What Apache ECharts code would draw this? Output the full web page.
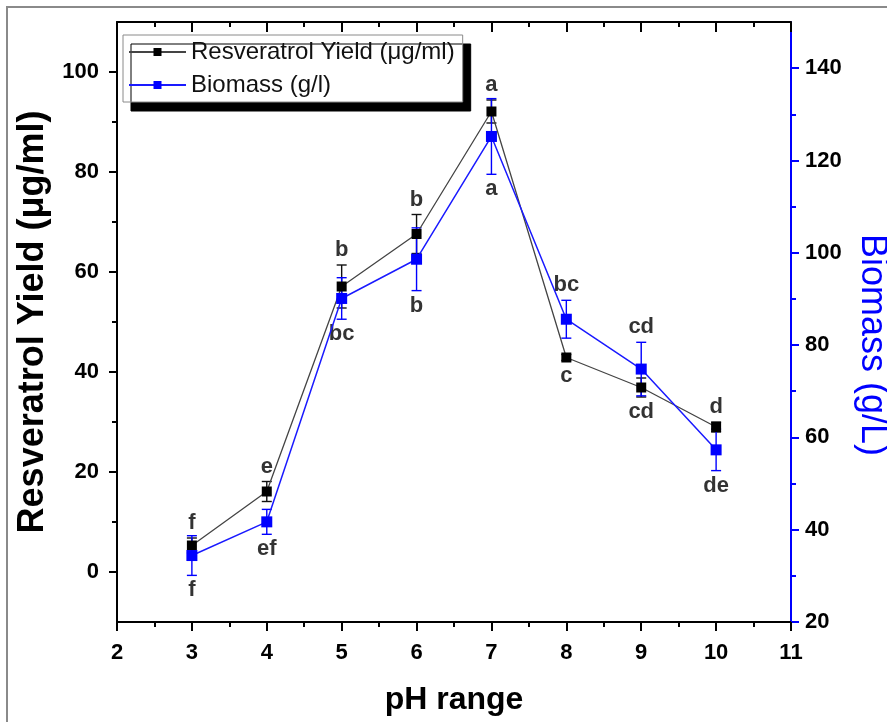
<!DOCTYPE html>
<html>
<head>
<meta charset="utf-8">
<script src="https://cdn.jsdelivr.net/npm/echarts@6/dist/echarts.min.js"></script>
<style>
  html, body { margin: 0; padding: 0; background: #fff; }
  #chart { width: 887px; height: 722px; }
</style>
</head>
<body>
<div id="chart"></div>
<script>
// pH levels tested
const phValues = [3, 4, 5, 6, 7, 8, 9, 10];

// Resveratrol yield (µg/ml), mean and standard deviation
const resveratrolYield = [5.3, 16.1, 57.1, 67.6, 92.1, 42.9, 36.9, 29.0];
const resveratrolSd = [1.5, 2.0, 4.3, 3.9, 2.3, 0.6, 1.9, 1.0];

// Biomass (g/l), mean and standard deviation
const biomass = [34.4, 41.7, 90.1, 98.6, 125.2, 85.6, 74.8, 57.3];
const biomassSd = [4.3, 2.7, 4.5, 6.8, 8.2, 4.1, 5.8, 4.5];

// Significance groups and the side of the error bar they sit on
const resveratrolGroups = ['f', 'e', 'b', 'b', 'a', 'c', 'cd', 'd'];
const resveratrolGroupSide = ['top', 'top', 'top', 'top', 'top', 'bottom', 'bottom', 'top'];
const biomassGroups = ['f', 'ef', 'bc', 'b', 'a', 'bc', 'cd', 'de'];
const biomassGroupSide = ['bottom', 'bottom', 'bottom', 'bottom', 'bottom', 'top', 'top', 'bottom'];

// Axis tick values
const yieldMajorTicks = [0, 20, 40, 60, 80, 100];
const yieldMinorTicks = [10, 30, 50, 70, 90];
const biomassMajorTicks = [20, 40, 60, 80, 100, 120, 140];
const biomassMinorTicks = [30, 50, 70, 90, 110, 130];

const FONT = 'Liberation Sans, Arial, Helvetica, sans-serif';
const BLACK = '#000000';
const BLUE = '#0000ff';

const pairs = (ys) => phValues.map((x, i) => [x, ys[i]]);
const errRows = (ys, sd) => phValues.map((x, i) => [x, ys[i] - sd[i], ys[i] + sd[i]]);
const groupRows = (ys, sd, groups, sides) => phValues.map((x, i) => ({
  value: [x, sides[i] === 'top' ? ys[i] + sd[i] : ys[i] - sd[i]],
  name: groups[i],
  label: { position: sides[i] }
}));

function errorBarRenderer(color) {
  return function (params, api) {
    const x = api.value(0);
    const lo = api.coord([x, api.value(1)]);
    const hi = api.coord([x, api.value(2)]);
    const half = 5;
    const style = { stroke: color, lineWidth: 1.4, fill: null };
    return {
      type: 'group',
      children: [
        { type: 'line', shape: { x1: lo[0], y1: lo[1], x2: hi[0], y2: hi[1] }, style },
        { type: 'line', shape: { x1: lo[0] - half, y1: lo[1], x2: lo[0] + half, y2: lo[1] }, style },
        { type: 'line', shape: { x1: hi[0] - half, y1: hi[1], x2: hi[0] + half, y2: hi[1] }, style }
      ]
    };
  };
}

const tickLabelStyle = { color: '#000', fontFamily: FONT, fontWeight: 'bold', fontSize: 22 };
const groupLabelStyle = { fontFamily: FONT, fontWeight: 'bold', fontSize: 22, color: '#000' };

const chart = echarts.init(document.getElementById('chart'), null, { renderer: 'canvas' });

chart.setOption({
  backgroundColor: '#ffffff',
  animation: false,
  graphic: [{
    type: 'rect',
    z: -10,
    shape: { x: 7, y: 7, width: 900, height: 730 },
    style: { fill: null, stroke: '#8a8a8a', lineWidth: 2 }
  }],
  grid: { left: 117, right: 96, top: 22, bottom: 100, containLabel: false, outerBoundsMode: 'none' },
  legend: {
    orient: 'vertical',
    left: 123,
    top: 35,
    padding: [5, 8, 5, 5],
    itemGap: 9,
    itemWidth: 57,
    itemHeight: 10,
    backgroundColor: '#ffffff',
    borderColor: '#8a8a8a',
    borderWidth: 1,
    shadowColor: '#000000',
    shadowBlur: 0,
    shadowOffsetX: 8,
    shadowOffsetY: 9,
    textStyle: { fontFamily: FONT, fontSize: 24, color: '#111' },
    data: ['Resveratrol Yield (μg/ml)', 'Biomass (g/l)']
  },
  xAxis: [{
    type: 'value',
    position: 'bottom',
    min: 2, max: 11, interval: 1,
    name: 'pH range',
    nameLocation: 'middle',
    nameGap: 62,
    nameTextStyle: { fontFamily: FONT, fontWeight: 'bold', fontSize: 32, color: '#000' },
    axisLine: { show: true, onZero: false, lineStyle: { color: BLACK, width: 2 } },
    axisTick: { show: true, inside: false, length: 9, lineStyle: { color: BLACK, width: 2 } },
    minorTick: { show: true, splitNumber: 2, length: 5, lineStyle: { color: BLACK, width: 2 } },
    axisLabel: Object.assign({ margin: 20 }, tickLabelStyle),
    splitLine: { show: false }
  }, {
    type: 'value',
    position: 'top',
    min: 2, max: 11, interval: 1,
    axisLine: { show: true, onZero: false, lineStyle: { color: BLACK, width: 2 } },
    axisTick: { show: true, inside: true, length: 10, lineStyle: { color: BLACK, width: 2 } },
    minorTick: { show: true, splitNumber: 2, length: 5, lineStyle: { color: BLACK, width: 2 } },
    axisLabel: { show: false },
    splitLine: { show: false }
  }],
  yAxis: [{
    type: 'value',
    position: 'left',
    min: -10, max: 110,
    name: 'Resveratrol Yield (μg/ml)',
    nameLocation: 'middle',
    nameGap: 62,
    nameRotate: 90,
    nameTextStyle: { fontFamily: FONT, fontWeight: 'bold', fontSize: 36, color: '#000' },
    axisLine: { show: true, onZero: false, lineStyle: { color: BLACK, width: 2 } },
    axisTick: { show: true, inside: false, length: 8, customValues: yieldMajorTicks, lineStyle: { color: BLACK, width: 2 } },
    axisLabel: Object.assign({ margin: 18, customValues: yieldMajorTicks }, tickLabelStyle),
    splitLine: { show: false }
  }, {
    type: 'value',
    position: 'right',
    min: 20, max: 150,
    name: 'Biomass (g/L)',
    nameLocation: 'middle',
    nameGap: 63,
    nameRotate: -90,
    nameTextStyle: { fontFamily: FONT, fontSize: 36, color: BLUE, padding: [0, 0, 0, 46] },
    axisLine: { show: true, onZero: false, lineStyle: { color: BLUE, width: 2 } },
    axisTick: { show: true, inside: false, length: 8, customValues: biomassMajorTicks, lineStyle: { color: BLUE, width: 2 } },
    axisLabel: Object.assign({ margin: 14, customValues: biomassMajorTicks }, tickLabelStyle),
    splitLine: { show: false }
  }, {
    type: 'value',
    position: 'left',
    min: -10, max: 110,
    axisLine: { show: false },
    axisTick: { show: true, inside: false, length: 5, customValues: yieldMinorTicks, lineStyle: { color: BLACK, width: 2 } },
    axisLabel: { show: false },
    splitLine: { show: false }
  }, {
    type: 'value',
    position: 'right',
    min: 20, max: 150,
    axisLine: { show: false },
    axisTick: { show: true, inside: false, length: 5, customValues: biomassMinorTicks, lineStyle: { color: BLUE, width: 2 } },
    axisLabel: { show: false },
    splitLine: { show: false }
  }],
  series: [{
    name: 'Resveratrol Yield (μg/ml)',
    type: 'line',
    xAxisIndex: 0,
    yAxisIndex: 0,
    data: pairs(resveratrolYield),
    symbol: 'rect',
    symbolSize: 10,
    z: 4,
    lineStyle: { color: '#444444', width: 1.3 },
    itemStyle: { color: BLACK }
  }, {
    name: 'Biomass (g/l)',
    type: 'line',
    xAxisIndex: 0,
    yAxisIndex: 1,
    data: pairs(biomass),
    symbol: 'rect',
    symbolSize: 11,
    z: 5,
    lineStyle: { color: '#1a1aff', width: 1.5 },
    itemStyle: { color: BLUE }
  }, {
    type: 'custom',
    xAxisIndex: 0,
    yAxisIndex: 0,
    z: 3,
    renderItem: errorBarRenderer('#111111'),
    data: errRows(resveratrolYield, resveratrolSd),
    encode: { x: 0, y: [1, 2] }
  }, {
    type: 'custom',
    xAxisIndex: 0,
    yAxisIndex: 1,
    z: 3,
    renderItem: errorBarRenderer(BLUE),
    data: errRows(biomass, biomassSd),
    encode: { x: 0, y: [1, 2] }
  }, {
    type: 'scatter',
    xAxisIndex: 0,
    yAxisIndex: 0,
    symbolSize: 0,
    silent: true,
    data: groupRows(resveratrolYield, resveratrolSd, resveratrolGroups, resveratrolGroupSide),
    label: Object.assign({ show: true, distance: 4, formatter: (p) => p.name }, groupLabelStyle)
  }, {
    type: 'scatter',
    xAxisIndex: 0,
    yAxisIndex: 1,
    symbolSize: 0,
    silent: true,
    data: groupRows(biomass, biomassSd, biomassGroups, biomassGroupSide),
    label: Object.assign({ show: true, distance: 4, formatter: (p) => p.name }, groupLabelStyle)
  }]
});
</script>
</body>
</html>
